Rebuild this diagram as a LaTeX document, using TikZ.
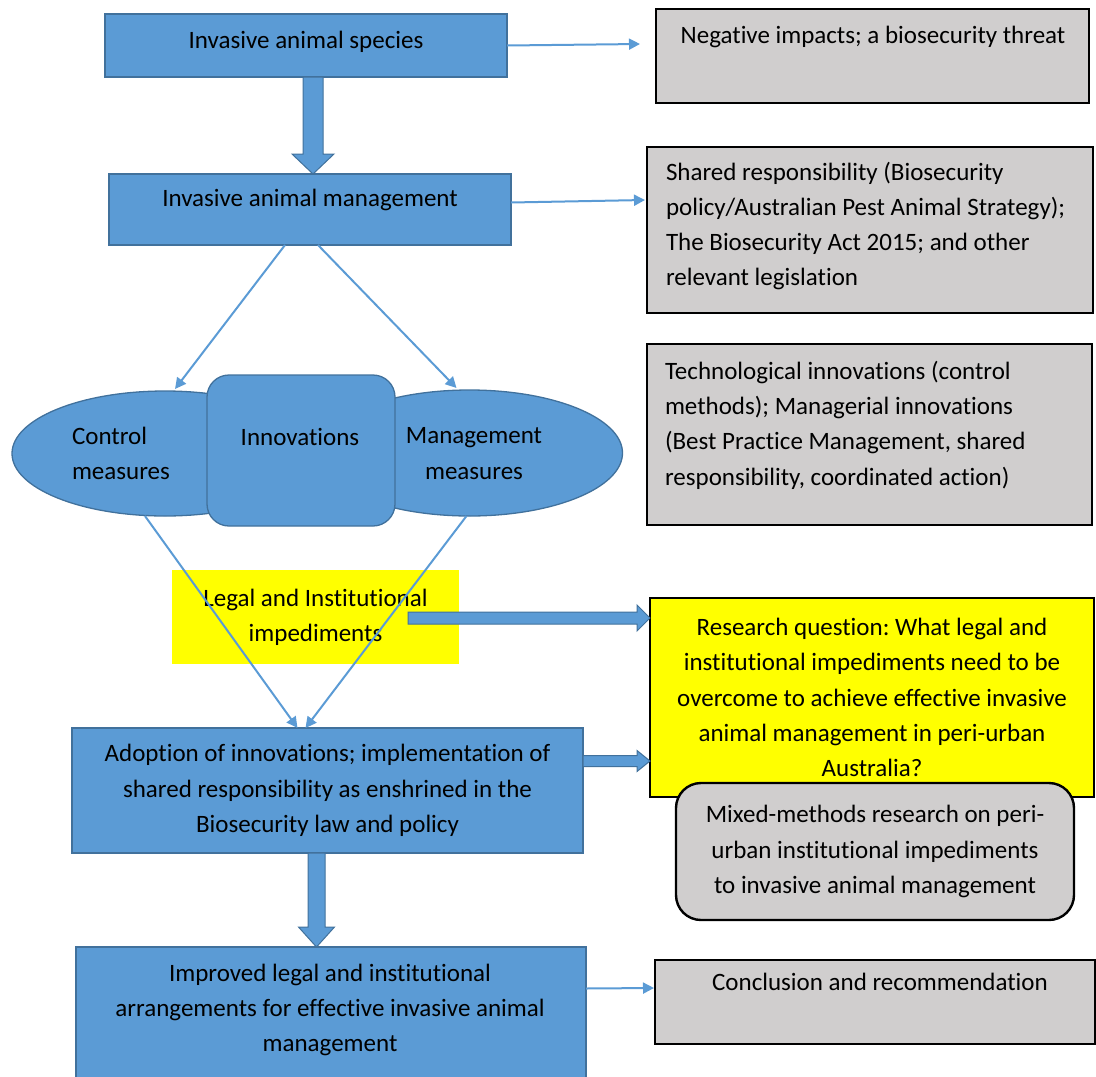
\documentclass[tikz,border=0pt]{standalone}
\usepackage{fontspec}
\setmainfont{Carlito}[Ligatures={NoCommon}]
\usetikzlibrary{arrows.meta,calc,shapes.geometric}
\definecolor{boxblue}{HTML}{5B9BD5}
\definecolor{edgeblue}{HTML}{41719C}
\definecolor{panelgray}{HTML}{D0CECE}
\definecolor{hiyellow}{HTML}{FFFF00}
\frenchspacing

% vertical block arrow: from #1 straight down to the level of #2
\newcommand{\downblock}[4]{%
  \filldraw[blockarrow] let \p1=(#1), \p2=(#2) in
    (\x1-#3,\y1) -- (\x1-#3,\y2+20pt) -- (\x1-#4,\y2+20pt) -- (\x1,\y2)
    -- (\x1+#4,\y2+20pt) -- (\x1+#3,\y2+20pt) -- (\x1+#3,\y1) -- cycle;}
% horizontal block arrow: from #1 straight right to the x of #2
\newcommand{\rightblock}[4]{%
  \filldraw[blockarrow] let \p1=(#1), \p2=(#2) in
    (\x1,\y1+#3) -- (\x2-13pt,\y1+#3) -- (\x2-13pt,\y1+#4) -- (\x2,\y1)
    -- (\x2-13pt,\y1-#4) -- (\x2-13pt,\y1-#3) -- (\x1,\y1-#3) -- cycle;}

\begin{document}
\begin{tikzpicture}[x=1pt,y=-1pt,
  every node/.style={font=\fontsize{25}{35.3}\selectfont, inner sep=0pt, outer sep=0pt},
  bluebox/.style={draw=edgeblue, line width=1.3pt, fill=boxblue, align=center},
  graybox/.style={draw=black, line width=2.4pt, fill=panelgray},
  blockarrow/.style={draw=edgeblue, line width=1pt, fill=boxblue},
  flow/.style={draw=boxblue, line width=2pt, -{Triangle[length=11pt,width=11pt]}},
]
\useasboundingbox (0,0) rectangle (1096,1077);
\clip (0,0) rectangle (1096,1077);

% left column: main chain
\node[bluebox, minimum width=402, minimum height=63] (spec) at (306,45.5) {};
\node (spectext) at (306,42) {Invasive animal species};

\node[bluebox, minimum width=402, minimum height=71] (mgmt) at (310,209.5) {};
\node (mgmttext) at (310,200) {Invasive animal management};

% control / innovations / management cluster
\node[bluebox, ellipse, minimum width=306, minimum height=125] (ctrl) at (165,453.5) {};
\node[bluebox, ellipse, minimum width=306, minimum height=126] (mm) at (469.5,453) {};
\node[bluebox, rounded corners=22, minimum width=188, minimum height=151] (innov) at (301,450.5) {};
\node[anchor=west, align=left] (ctrltext) at (72,453.5) {Control\\measures};
\node[align=center] (mmtext) at (474,453.5) {Management\\measures};
\node (innovtext) at (300,437) {Innovations};

% impediments
\node[fill=hiyellow, minimum width=287, minimum height=94, align=center] (legal) at (315.5,617) {Legal and Institutional\\impediments};

\node[bluebox, minimum width=511, minimum height=125] (adopt) at (327.5,790.5) {Adoption of innovations; implementation of\\shared responsibility as enshrined in the\\Biosecurity law and policy};

\node[bluebox, minimum width=510, minimum height=145] (impr) at (331,1019.5) {};
\node[align=center] (imprtext) at (330,1010) {Improved legal and institutional\\arrangements for effective invasive animal\\management};

% right column
\node[graybox, minimum width=433, minimum height=94] (ni) at (872.5,56) {};
\node (nitext) at (873,37) {Negative impacts; a biosecurity threat};

\node[graybox, minimum width=446, minimum height=166] (sr) at (870,230) {};
\node[anchor=west, align=left] (srtext) at (666,226) {Shared responsibility (Biosecurity\\policy/Australian Pest Animal Strategy);\\The Biosecurity Act 2015; and other\\relevant legislation};

\node[graybox, minimum width=445, minimum height=181] (tech) at (869.5,434.5) {};
\node[anchor=west, align=left] (techtext) at (665,425) {Technological innovations (control\\methods); Managerial innovations\\(Best Practice Management, shared\\responsibility, coordinated action)};

\node[draw=black, line width=2.4pt, fill=hiyellow, minimum width=444, minimum height=199, align=center] (rq) at (872,697.5) {Research question: What legal and\\institutional impediments need to be\\overcome to achieve effective invasive\\animal management in peri-urban\\Australia?};

\node[draw=black, line width=2.4pt, fill=panelgray, rounded corners=25, minimum width=398, minimum height=137, align=center] (mixed) at (875,851.5) {Mixed-methods research on peri-\\urban institutional impediments\\to invasive animal management};

\node[graybox, minimum width=440, minimum height=84] (concl) at (875,1002) {};
\node (concltext) at (880,982) {Conclusion and recommendation};

% thin connectors
\draw[flow] (spec.east) -- ($(ni.west)+(-16,-12)$);
\draw[flow] ($(mgmt.east)+(0,-7)$) -- ($(sr.west)+(-2,-30)$);
\draw[flow] ($(mgmt.south)+(-25,0)$) -- ($(ctrl.north)+(10,-2)$);
\draw[flow] ($(mgmt.south)+(8,0)$) -- ($(mm.north)+(-13,-2)$);
\draw[flow] ($(ctrl.south)+(-20,0)$) -- ($(adopt.north)+(-30,0)$);
\draw[flow] ($(mm.south)+(-3,0)$) -- ($(adopt.north)+(-22,0)$);
\draw[flow] ($(impr.east)+(0,-31)$) -- ($(concl.west)+(-1,-14)$);

% block arrows
\downblock{$(spec.south)+(7,0)$}{mgmt.north}{10pt}{21pt}
\downblock{$(adopt.south)+(-11,0)$}{impr.north}{8.5pt}{18pt}
\rightblock{$(legal.east)+(-51,1)$}{rq.west}{6pt}{13pt}
\rightblock{$(adopt.east)+(0,-29.5)$}{rq.west}{5.5pt}{10.5pt}
\end{tikzpicture}
\end{document}
